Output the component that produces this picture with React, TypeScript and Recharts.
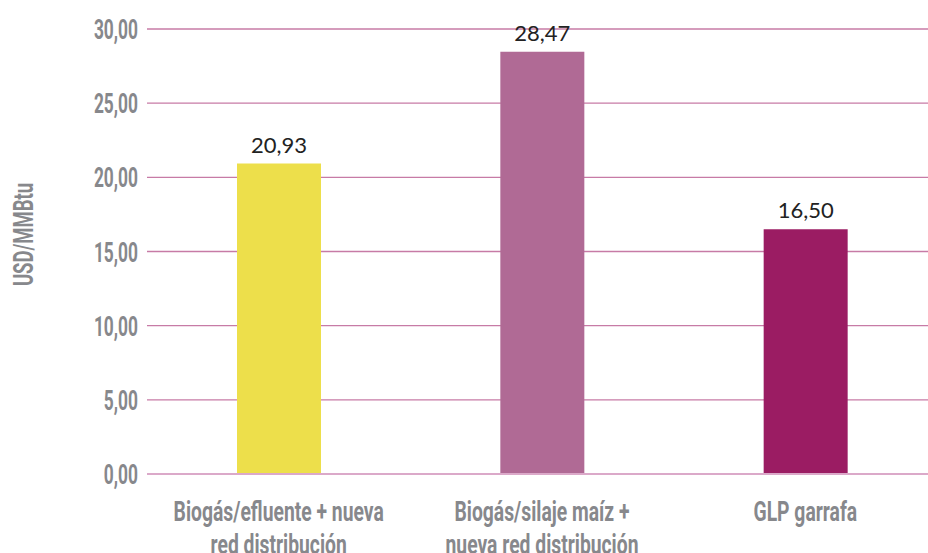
import React from 'react';
import { BarChart, Bar, XAxis, YAxis, CartesianGrid, Cell, LabelList, ReferenceLine } from 'recharts';

const categories = [
  ['Biogás/efluente + nueva', 'red distribución'],
  ['Biogás/silaje maíz +', 'nueva red distribución'],
  ['GLP garrafa'],
];
const values = [20.93, 28.47, 16.5];
const colors = ['#EDDF4B', '#B06A95', '#9B1C63'];
const yTicks = [0, 5, 10, 15, 20, 25, 30];
const yTitle = 'USD/MMBtu';

const data = categories.map((c, i) => ({ name: c.join('\n'), value: values[i] }));

const fmt = (v: number) => v.toFixed(2).replace('.', ',');
const axisFont = 'Roboto, "DejaVu Sans", sans-serif';
const grey = '#87888C';

const XTick = (props: any) => {
  const { x, y, payload } = props;
  const lines = String(payload.value).split('\n');
  return (
    <g transform={`translate(${x},${y}) scale(0.69,1)`}>
      <text x={0} y={0} textAnchor="middle" fill={grey} fontFamily={axisFont} fontWeight="bold" fontSize={28}>
        {lines.map((l, i) => (
          <tspan key={i} x={0} y={39 + i * 33}>{l}</tspan>
        ))}
      </text>
    </g>
  );
};

const YTick = (props: any) => {
  const { x, y, payload } = props;
  return (
    <g transform={`translate(${x},${y}) scale(0.62,1)`}>
      <text x={0} y={0} dy={10} textAnchor="end" fill={grey} fontFamily={axisFont} fontWeight="bold" fontSize={28}>
        {fmt(payload.value)}
      </text>
    </g>
  );
};

const YLabel = (props: any) => {
  const { viewBox } = props;
  const cy = viewBox.y + viewBox.height / 2 - 17;
  const cx = 33;
  return (
    <g transform={`translate(${cx},${cy}) rotate(-90) scale(0.66,1)`}>
      <text x={0} y={0} textAnchor="middle" fill={grey} fontFamily={axisFont} fontWeight="bold" fontSize={28}>
        {yTitle}
      </text>
    </g>
  );
};

export default function App() {
  return (
    <div style={{ position: 'absolute', left: 0, top: 0, width: 928, height: 553, overflow: 'hidden', background: '#fff' }}>
      <BarChart width={940} height={553} data={data} margin={{ top: 29, right: 3, bottom: 0, left: 0 }} barSize={84}>
        <CartesianGrid vertical={false} stroke="#C77BA6" strokeWidth={1.3} />
        <XAxis dataKey="name" axisLine={false} tickLine={false} tick={<XTick />} height={79} interval={0} />
        <YAxis
          domain={[0, 30]}
          ticks={yTicks}
          axisLine={false}
          tickLine={false}
          width={147}
          tick={<YTick />}
          tickMargin={3}
          label={<YLabel />}
        />
        <ReferenceLine y={0} stroke="#DBA9C9" strokeWidth={2} />
        <Bar dataKey="value" isAnimationActive={false}>
          {data.map((d, i) => (
            <Cell key={i} fill={colors[i]} />
          ))}
          <LabelList
            dataKey="value"
            position="top"
            offset={11}
            formatter={(v: any) => fmt(Number(v))}
            style={{ fill: '#222', fontFamily: 'Lato, "Open Sans", sans-serif', fontSize: 22 }}
          />
        </Bar>
      </BarChart>
    </div>
  );
}
